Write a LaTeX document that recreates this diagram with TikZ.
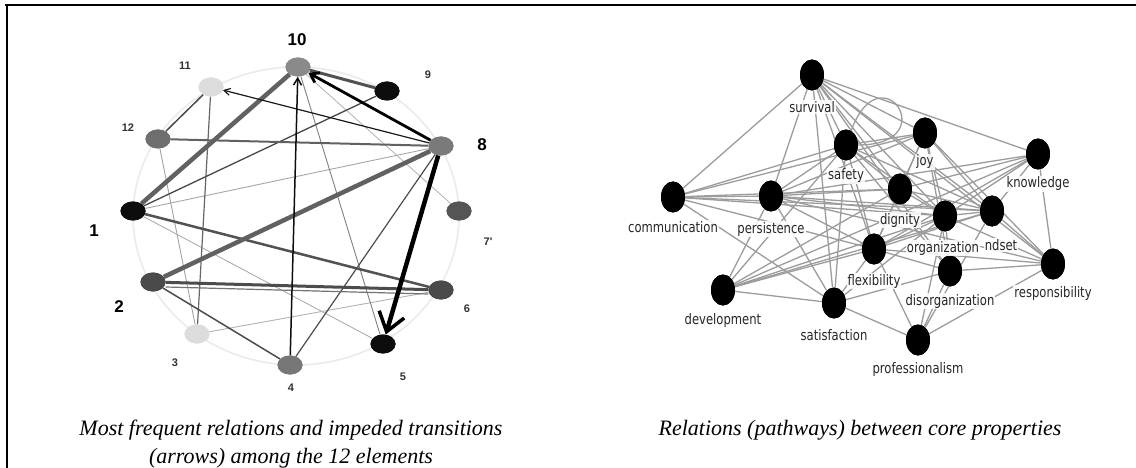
\documentclass[tikz,border=0pt]{standalone}
\usepackage{fontspec}
\setmainfont{Liberation Serif}
\newfontfamily\labfont{DejaVu Sans}[FakeStretch=0.8]
\newfontfamily\numfont{Liberation Sans}
\usetikzlibrary{arrows.meta,shapes.geometric}
\definecolor{c10}{HTML}{8A8A8A}
\definecolor{cpale}{HTML}{DCDCDC}
\definecolor{cblk}{HTML}{0D0D0D}
\definecolor{c12}{HTML}{6E6E6E}
\definecolor{c8}{HTML}{7A7A7A}
\definecolor{c7}{HTML}{555555}
\definecolor{cdark}{HTML}{4A4A4A}
\definecolor{c4}{HTML}{777777}
\definecolor{redge}{HTML}{9C9C9C}
\tikzset{
  lnode/.style={ellipse, minimum width=25pt, minimum height=19pt, inner sep=0pt},
  numsmall/.style={font=\numfont\bfseries\fontsize{11}{12}\selectfont, text=black!80},
  numbig/.style={font=\numfont\bfseries\fontsize{17}{18}\selectfont},
  rnode/.style={ellipse, fill=black, minimum width=24pt, minimum height=31pt, inner sep=0pt},
  rlab/.style={font=\labfont\fontsize{14.5}{16}\selectfont, text=black!85, fill=white, fill opacity=0.85, text opacity=1, inner sep=1pt},
  redg/.style={draw=redge, line width=1.3pt},
  capt/.style={font=\itshape\fontsize{22}{28}\selectfont, align=center}
}
\begin{document}
\begin{tikzpicture}[x=1pt,y=-1pt]
\useasboundingbox (0,0) rectangle (1136,468);
\fill[white] (0,0) rectangle (1136,468);
% frame
\draw[line width=2pt] (5,5) -- (1136,5);
\draw[line width=2pt] (7,4) -- (7,468);

% ---------------- left graph ----------------
\draw[black!8, line width=1.6pt] (296,216) ellipse [x radius=163, y radius=149];
\node[lnode, fill=c10]  (n10) at (298,67) {};
\node[lnode, fill=cpale](n11) at (211,87) {};
\node[lnode, fill=cblk] (n9)  at (387,91) {};
\node[lnode, fill=c12]  (n12) at (158,139) {};
\node[lnode, fill=c8]   (n8)  at (441,146) {};
\node[lnode, fill=cblk] (n1)  at (133,211) {};
\node[lnode, fill=c7]   (n7)  at (459,211) {};
\node[lnode, fill=cdark](n2)  at (153,282) {};
\node[lnode, fill=cdark](n6)  at (441,290) {};
\node[lnode, fill=cpale](n3)  at (197,334) {};
\node[lnode, fill=cblk] (n5)  at (383,344) {};
\node[lnode, fill=c4]   (n4)  at (290,365) {};

\draw[black!38, line width=0.8pt] (n12) -- (n3);
\draw[black!35, line width=0.9pt] (n1) -- (n8);
\draw[black!35, line width=0.8pt] (n1) -- (n5);
\draw[black!30, line width=0.9pt] (n3) -- (n6);
\draw[black!50, line width=0.9pt] (n10) -- (n5);
\draw[black!30, line width=0.8pt] (n10) -- (n7);
\draw[black!60, line width=1.2pt] (n11) -- (n3);
\draw[black!70, line width=1.5pt] (n11) -- (n12);
\draw[black!72, line width=1.3pt] (n1) -- (n9);
\draw[black!70, line width=1.2pt] (n4) -- (n8);
\draw[black!70, line width=1.5pt] (n2) -- (n4);
\draw[black!62, line width=2pt] (n12) -- (n8);
\draw[black!68, line width=2.5pt] (n1) -- (n6);
\draw[black!55, line width=1.2pt] ([yshift=-5pt]n2.east) -- ([yshift=-4pt]n6.west);
\draw[black!70, line width=3pt] (n2) -- (n6);
\draw[black!62, line width=4.5pt] (n1) -- (n10);
\draw[black!62, line width=4.5pt] (n2) -- (n8);
\draw[black!68, line width=3pt] (n9) -- (n10);
\draw[black!90, line width=1.2pt, -{Straight Barb[length=6pt,width=7pt]}] (n8) -- (n11);
\draw[black!95, line width=1.5pt, -{Straight Barb[length=7pt,width=8pt]}] (n4) -- (n10);
\draw[black, line width=2.8pt, -{Straight Barb[length=8pt,width=11pt]}] (n8) -- (n10);
\draw[black, line width=4.5pt, -{Straight Barb[length=18pt,width=26pt,line width=3.5pt]}] (n8) -- (n5);
% redraw nodes on top
\foreach \n/\c in {n10/c10,n11/cpale,n9/cblk,n12/c12,n8/c8,n1/cblk,n7/c7,n2/cdark,n6/cdark,n3/cpale,n5/cblk,n4/c4}
  \fill[\c] (\n.center) ellipse [x radius=12.5, y radius=9.5];

\node[numbig]   (l10) at (297,40)  {10};
\node[numsmall] (l11) at (185,66)  {11};
\node[numsmall] (l9)  at (428,75)  {9};
\node[numsmall] (l12) at (128,128) {12};
\node[numbig]   (l8)  at (482,145) {8};
\node[numbig]   (l1)  at (94,231)  {1};
\node[numsmall] (l7)  at (488,242) {7'};
\node[numbig]   (l2)  at (119,307) {2};
\node[numsmall] (l6)  at (467,309) {6};
\node[numsmall] (l3)  at (175,363) {3};
\node[numsmall] (l5)  at (403,377) {5};
\node[numsmall] (l4)  at (291,388) {4};

\node[capt] (capL) at (291,444) {Most frequent relations and impeded transitions\\(arrows) among the 12 elements};

% ---------------- right graph ----------------
\node[rnode] (sur) at (812,75) {};
\node[rnode] (joy) at (925,133) {};
\node[rnode] (saf) at (846,145) {};
\node[rnode] (kno) at (1038,154) {};
\node[rnode] (com) at (673,197) {};
\node[rnode] (per) at (771,196) {};
\node[rnode] (dig) at (900,189) {};
\node[rnode] (org) at (945,216) {};
\node[rnode] (min) at (992,211) {};
\node[rnode] (fle) at (874,249) {};
\node[rnode] (dis) at (950,271) {};
\node[rnode] (res) at (1053,264) {};
\node[rnode] (dev) at (723,290) {};
\node[rnode] (sat) at (834,303) {};
\node[rnode] (pro) at (918,340) {};

\foreach \a/\b in {sur/com,sur/per,sur/sat,sur/saf,sur/dig,sur/org,sur/min,sur/kno,sur/joy,sur/fle,sur/res,sur/dis,
  com/per,com/org,com/min,com/dig,com/saf,com/joy,com/fle,com/sat,
  per/org,per/min,per/dig,per/joy,per/saf,per/fle,per/sat,per/dev,per/kno,per/res,
  saf/org,saf/dig,saf/joy,saf/fle,saf/sat,saf/min,saf/dev,saf/dis,
  joy/dig,joy/org,joy/min,joy/fle,joy/res,joy/dis,
  kno/org,kno/min,kno/fle,kno/dev,kno/res,kno/dig,
  dig/org,dig/fle,dig/min,dig/dev,
  org/min,org/fle,org/dis,org/pro,org/res,org/dev,org/sat,
  min/res,min/fle,min/dev,min/pro,
  fle/dev,fle/sat,fle/dis,fle/pro,fle/res,
  dis/pro,dis/sat,dis/res,res/pro,dev/sat,sat/pro}
  \draw[redg] (\a) -- (\b);
\draw[redg] (saf) to[out=70,in=0,looseness=14] (saf);
\foreach \n in {sur,joy,saf,kno,com,per,dig,org,min,fle,dis,res,dev,sat,pro}
  \fill[black] (\n.center) ellipse [x radius=12, y radius=15.5];

\node[rlab] (tsur) at (812,107) {survival};
\node[rlab] (tjoy) at (925,162) {joy};
\node[rlab] (tsaf) at (846,176) {safety};
\node[rlab] (tkno) at (1038,184) {knowledge};
\node[rlab] (tcom) at (673,227) {communication};
\node[rlab] (tper) at (771,229) {persistence};
\node[rlab] (tdig) at (900,220) {dignity};
\node[rlab] (tmin) at (1001,245) {ndset};
\node[rlab] (torg) at (943,248) {organization};
\node[rlab] (tfle) at (874,281) {flexibility};
\node[rlab] (tdis) at (950,301) {disorganization};
\node[rlab] (tres) at (1053,293) {responsibility};
\node[rlab] (tdev) at (723,320) {development};
\node[rlab] (tsat) at (834,335) {satisfaction};
\node[rlab] (tpro) at (918,369) {professionalism};

\node[capt] (capR) at (860,430) {Relations (pathways) between core properties};
\end{tikzpicture}
\end{document}
